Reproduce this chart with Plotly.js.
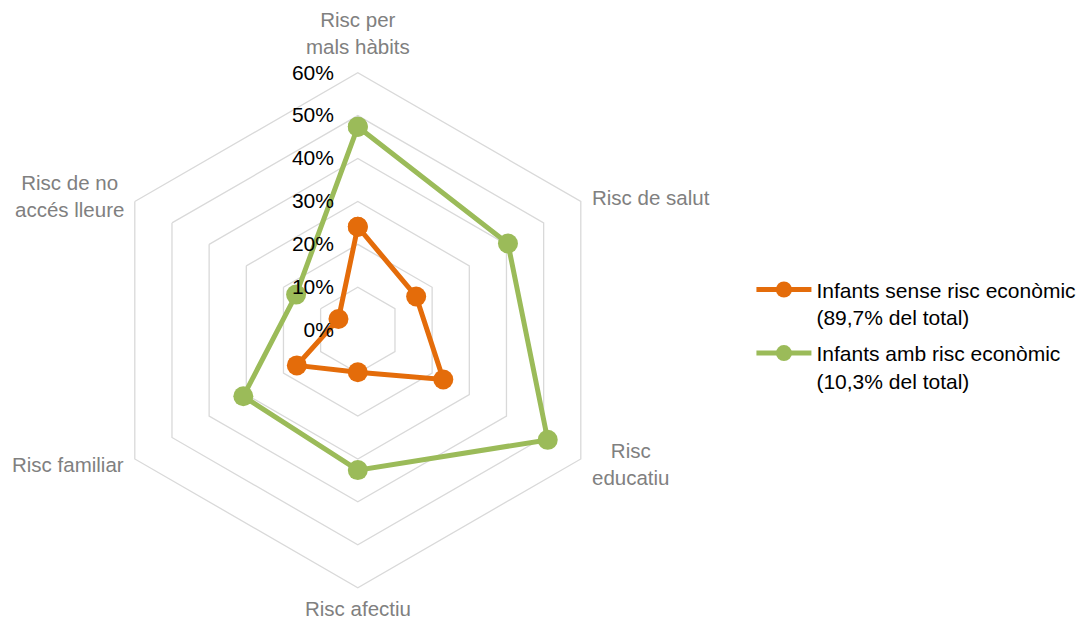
<!DOCTYPE html>
<html>
<head>
<meta charset="utf-8">
<script src="https://cdn.plot.ly/plotly-3.0.1.min.js"></script>
<style>body{margin:0;padding:0;background:#fff;}#chart{width:1084px;height:620px;}</style>
</head>
<body>
<div id="chart"></div>
<script>
var categories = ["Risc per<br>mals hàbits", "Risc de salut", "Risc<br>educatiu", "Risc afectiu", "Risc familiar", "Risc de no<br>accés lleure"];
var seriesNames = ["Infants sense risc econòmic<br>(89,7% del total)", "Infants amb risc econòmic<br>(10,3% del total)"];
var sinseRisc = [24.1, 15.7, 23.0, 9.8, 16.4, 5.2];
var ambRisc = [47.4, 40.4, 51.1, 32.6, 30.8, 16.6];
var radialTicks = [0, 10, 20, 30, 40, 50, 60];
var radialTickText = ["0%", "10%", "20%", "30%", "40%", "50%", "60%"];

function closeLoop(a){ return a.concat([a[0]]); }

var W = 1084, H = 620;
var cx = 357.8, cy = 330.2, R = 257.5;

var traces = [
  {type:'scatterpolar', r: closeLoop(sinseRisc), theta: closeLoop(categories), name: seriesNames[0],
   mode:'lines+markers', line:{color:'#E46C0A', width:5}, marker:{color:'#E46C0A', size:20}, legendgroup:'a'},
  {type:'scatterpolar', r: closeLoop(ambRisc), theta: closeLoop(categories), name: seriesNames[1],
   mode:'lines+markers', line:{color:'#9BBB59', width:5}, marker:{color:'#9BBB59', size:20}, legendgroup:'b'}
];

// category label placement relative to the hexagon vertices (pixel offsets)
var labelFont = {family:'Liberation Sans, Arial, sans-serif', size:20.5, color:'#808080'};
var labelSpecs = [
  {dx:0, dy:-R-14, xa:'center', ya:'bottom'},
  {dx:R*0.866+10, dy:-R*0.5-4, xa:'left', ya:'middle'},
  {dx:R*0.866+10, dy:R*0.5+5, xa:'left', ya:'middle'},
  {dx:0, dy:R+8, xa:'center', ya:'top'},
  {dx:-R*0.866-10, dy:R*0.5+6, xa:'right', ya:'middle'},
  {dx:-R*0.866-10, dy:-R*0.5-5, xa:'right', ya:'middle'}
];
var annotations = categories.map(function(c, i){
  var s = labelSpecs[i];
  return {text:c, xref:'paper', yref:'paper', x:(cx+s.dx)/W, y:1-(cy+s.dy)/H,
          xanchor:s.xa, yanchor:s.ya, align:'center', showarrow:false, font:labelFont, borderpad:0};
});

var layout = {
  width:W, height:H,
  margin:{l:0,r:0,t:0,b:0},
  paper_bgcolor:'#fff',
  font:{family:'Liberation Sans, Arial, sans-serif', size:21, color:'#000'},
  showlegend:true,
  annotations: annotations,
  legend:{x:0.6932, y:0.5656, xanchor:'left', yanchor:'top', valign:'top', itemwidth:55, tracegroupgap:6,
          font:{size:21, color:'#000'}, bgcolor:'rgba(0,0,0,0)'},
  polar:{
    domain:{x:[(cx-R)/W, (cx+R)/W], y:[1-(cy+R)/H, 1-(cy-R)/H]},
    gridshape:'linear',
    bgcolor:'#fff',
    radialaxis:{range:[0,60], tickvals:radialTicks, ticktext:radialTickText, angle:90, tickangle:90,
                showline:false, gridcolor:'#D9D9D9', gridwidth:1.3, ticks:'outside', ticklen:16, tickcolor:'rgba(0,0,0,0)',
                side:'counterclockwise', tickfont:{size:21, color:'#000'}},
    angularaxis:{direction:'clockwise', rotation:90, showgrid:false, showline:true, linecolor:'#D9D9D9', linewidth:1.3,
                 ticks:'', showticklabels:false}
  }
};

Plotly.newPlot('chart', traces, layout, {displayModeBar:false, staticPlot:true});
</script>
</body>
</html>
